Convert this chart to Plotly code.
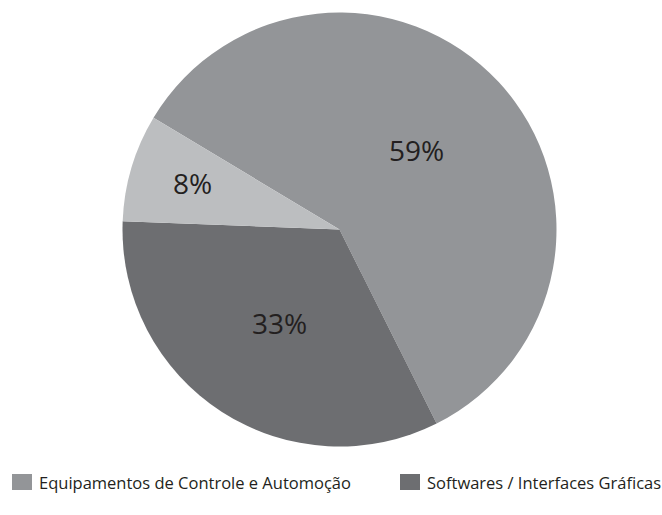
import math
import plotly.graph_objects as go

# Share of items by category (percent)
categories = ["Equipamentos de Controle e Automoção", "Softwares / Interfaces Gráficas", "Outros"]
values = [59, 33, 8]
colors = ["#939598", "#6d6e71", "#bcbec0"]
legend_items = [0, 1]  # categories listed in the visible legend row

W, H = 662, 515
CX, CY, R = 339.5, 229.5, 217      # pie centre and radius in pixels
ROTATION = -59                     # start angle of the first slice (clockwise from 12 o'clock)
label_radius = [0.51, 0.51, 0.71]  # radial position of each percentage label (fraction of R)
label_turn = [-3, 0, 1]            # small angular nudge of each label along the slice (degrees)

fig = go.Figure(
    go.Pie(
        labels=categories,
        values=values,
        sort=False,
        direction="clockwise",
        rotation=ROTATION,
        marker=dict(colors=colors, line=dict(width=0)),
        textinfo="none",
        showlegend=False,
        hoverinfo="label+percent",
        domain=dict(x=[(CX - R) / W, (CX + R) / W], y=[(H - CY - R) / H, (H - CY + R) / H]),
    )
)

# Percentage labels placed near each slice's bisector
total = sum(values)
start = ROTATION
for v, frac, turn in zip(values, label_radius, label_turn):
    span = 360 * v / total
    mid = math.radians(start + span / 2 + turn)
    px = CX + frac * R * math.sin(mid)
    py = CY - frac * R * math.cos(mid)
    fig.add_annotation(
        x=px / W, y=1 - py / H, xref="paper", yref="paper",
        xanchor="center", yanchor="middle", showarrow=False,
        text=f"{v}%", font=dict(family="Open Sans", size=28, color="#231f20"),
    )
    start += span

# Legend row drawn as swatches + labels
legend_x = [12, 400]
legend_y = 482
for i, x0 in zip(legend_items, legend_x):
    fig.add_shape(
        type="rect", xref="paper", yref="paper",
        x0=x0 / W, x1=(x0 + 20) / W, y0=(H - legend_y - 8) / H, y1=(H - legend_y + 8) / H,
        fillcolor=colors[i], line=dict(width=0),
    )
    fig.add_annotation(
        x=(x0 + 25) / W, y=(H - legend_y) / H, xref="paper", yref="paper",
        xanchor="left", yanchor="middle", showarrow=False,
        text=categories[i], font=dict(family="Open Sans", size=16.5, color="#231f20"),
    )

fig.update_layout(
    width=W, height=H,
    margin=dict(l=0, r=0, t=0, b=0),
    paper_bgcolor="white", plot_bgcolor="white",
)
fig.write_html("out.html")
